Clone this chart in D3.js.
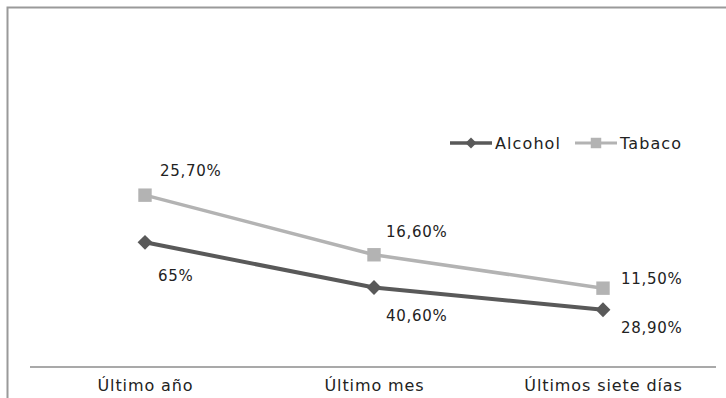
<!DOCTYPE html>
<html><head><meta charset="utf-8">
<script src="https://cdn.jsdelivr.net/npm/d3@7"></script>
<style>html,body{margin:0;padding:0;background:#fff;}svg{display:block;}</style>
</head><body>
<svg id="c" width="726" height="398"></svg>
<script>
const categories = ["Último año", "Último mes", "Últimos siete días"];
const seriesNames = ["Alcohol", "Tabaco"];
const alcoholValues = [18.5, 11.6, 8.2];
const tabacoValues = [25.7, 16.6, 11.5];
const alcoholLabels = ["65%", "40,60%", "28,90%"];
const tabacoLabels = ["25,70%", "16,60%", "11,50%"];

const svg = d3.select("#c");
const font = "DejaVu Sans, Verdana, sans-serif";

// frame
svg.append("path").attr("d","M7.5,398 V7.5 H726").attr("fill","none").attr("stroke","#9a9a9a").attr("stroke-width",2);

const x = d3.scalePoint().domain(categories).range([145, 603]);
const y = d3.scaleLinear().domain([0, 30]).range([363.5, 167]);

// x axis
const xAxis = d3.axisBottom(x).tickSize(0).tickPadding(13);
const ax = svg.append("g").attr("transform","translate(0,367)").call(xAxis);
ax.select(".domain").remove();
svg.append("line").attr("x1",30).attr("x2",716).attr("y1",367).attr("y2",367).attr("stroke","#8c8c8c").attr("stroke-width",1.5);
ax.selectAll("text").attr("font-family",font).attr("font-size",16).attr("letter-spacing","0.9px").attr("fill","#222");

const diamond = {
  draw(ctx, size) { const r = Math.sqrt(size/2); ctx.moveTo(0,-r); ctx.lineTo(r,0); ctx.lineTo(0,r); ctx.lineTo(-r,0); ctx.closePath(); }
};

const series = [
  {name:"Alcohol", values:alcoholValues, labels:alcoholLabels, color:"#595959", width:4, shape:"diamond", labelDy:[39,33,23], labelDx:[13,12,18]},
  {name:"Tabaco", values:tabacoValues, labels:tabacoLabels, color:"#b3b3b3", width:3.5, shape:"square", labelDy:[-19,-18,-4], labelDx:[15,12,18]}
];

const line = d3.line().x((d,i)=>x(categories[i])).y(d=>y(d));

series.forEach(s=>{
  const g = svg.append("g");
  g.append("path").datum(s.values).attr("d",line).attr("fill","none").attr("stroke",s.color).attr("stroke-width",s.width);
  const sym = s.shape==="diamond" ? diamond : d3.symbolSquare;
  const size = s.shape==="diamond" ? 110 : 180;
  g.selectAll("path.m").data(s.values).join("path").attr("class","m")
    .attr("d", d3.symbol(sym, size))
    .attr("transform",(d,i)=>`translate(${x(categories[i])},${y(d)})`)
    .attr("fill",s.color);
  g.selectAll("text").data(s.values).join("text")
    .attr("x",(d,i)=>x(categories[i])+s.labelDx[i])
    .attr("y",(d,i)=>y(d)+s.labelDy[i])
    .attr("font-family",font).attr("font-size",15).attr("letter-spacing","0.7px").attr("fill","#222")
    .text((d,i)=>s.labels[i]);
});

// legend
const legendPos = [{x0:450,x1:492,tx:495},{x0:575,x1:617,tx:620}];
series.forEach((s,i)=>{
  const p = legendPos[i], ly = 143;
  svg.append("line").attr("x1",p.x0).attr("x2",p.x1).attr("y1",ly).attr("y2",ly).attr("stroke",s.color).attr("stroke-width",s.width-0.5);
  const sym = s.shape==="diamond" ? diamond : d3.symbolSquare;
  svg.append("path").attr("d",d3.symbol(sym, s.shape==="diamond"?60:110)).attr("transform",`translate(${(p.x0+p.x1)/2},${ly})`).attr("fill",s.color);
  svg.append("text").attr("x",p.tx).attr("y",ly+6).attr("font-family",font).attr("font-size",16).attr("letter-spacing","1.1px").attr("fill","#222").text(s.name);
});
</script>
</body></html>
